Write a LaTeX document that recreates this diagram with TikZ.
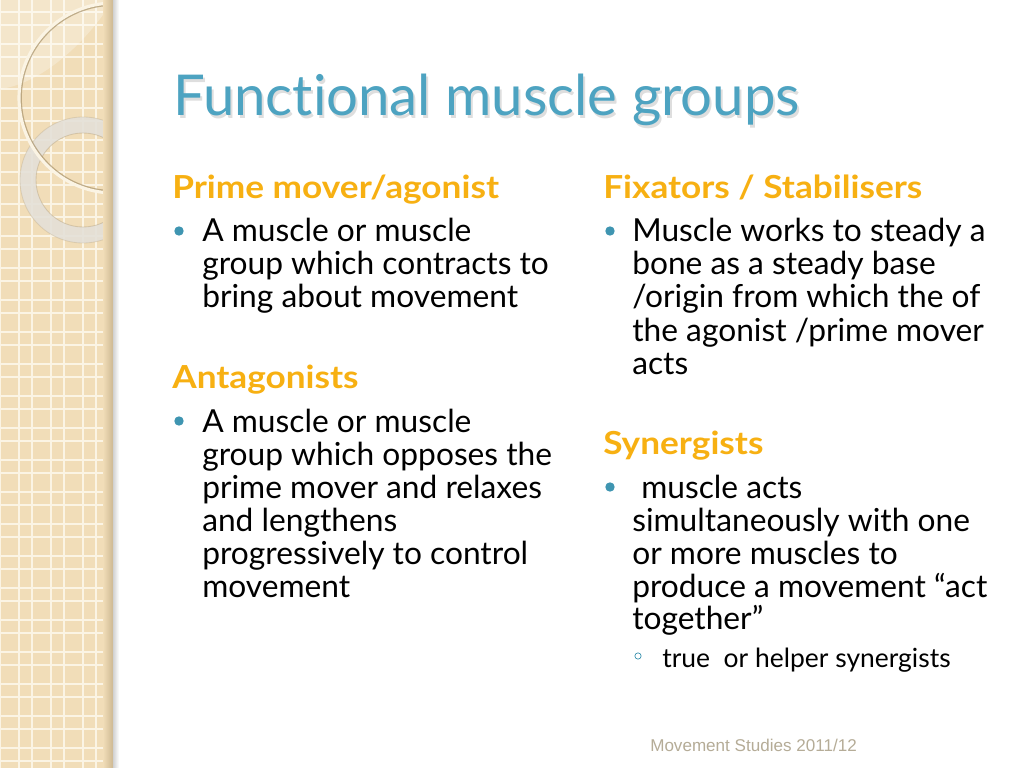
\documentclass[tikz,border=0pt]{standalone}
\usepackage{fontspec}
\usepackage{graphicx}
\setmainfont{Lato}[Ligatures=NoCommon]
\newfontfamily\footfont{Liberation Sans}
\definecolor{titlecol}{HTML}{4DA3C1}
\definecolor{headcol}{HTML}{F7B012}
\definecolor{bulletcol}{HTML}{3F95B1}
\definecolor{footcol}{HTML}{B5AC97}
\definecolor{stripcol}{HTML}{F1DDB8}
\definecolor{stripdark}{HTML}{CDB892}
\definecolor{gridcol}{HTML}{FBF4E4}
\definecolor{ringcol}{HTML}{E4E0D8}
\definecolor{circedge}{HTML}{A8926A}
\newcommand{\hstretch}[1]{\scalebox{1.11}[1]{#1}}
\tikzset{
  titletext/.style={anchor=base west, inner sep=0, font={\fontsize{39.6}{48}\selectfont}},
  headtext/.style={anchor=base west, inner sep=0, text=headcol, font={\fontsize{22.3}{26}\selectfont\bfseries}},
  bodytext/.style={anchor=base west, inner sep=0, text=black, font={\fontsize{22.3}{26}\selectfont}},
  subtext/.style={anchor=base west, inner sep=0, text=black, font={\fontsize{18.6}{22}\selectfont}},
  bulletdot/.style={circle, fill=bulletcol, draw=none, inner sep=0, minimum size=6.6pt},
  subbullet/.style={circle, draw=bulletcol, line width=0.5pt, fill=none, inner sep=0, minimum size=4.4pt},
  foottext/.style={anchor=base west, inner sep=0, text=footcol, font={\footfont\fontsize{12}{14}\selectfont}}
}
\begin{document}
\begin{tikzpicture}[x=0.703125pt, y=-0.703125pt]
\useasboundingbox (0,0) rectangle (1024,768);
\fill[white] (0,0) rectangle (1024,768);
% ---- left decorative strip ----
\fill[stripcol] (0,0) rectangle (113,768);
\foreach \gx in {0,19,32,51,64,83,96} {
  \draw[gridcol, line width=1.4pt] (\gx,0) -- (\gx,768);
}
\foreach \k in {0,...,24} {
  \pgfmathsetmacro{\ya}{12+32*\k}
  \pgfmathsetmacro{\yb}{25+32*\k}
  \draw[gridcol, line width=1.4pt] (0,\ya) -- (113,\ya);
  \draw[gridcol, line width=1.4pt] (0,\yb) -- (113,\yb);
}
\begin{scope}
  \clip (0,0) rectangle (113,768);
  % light highlight at the top
  \fill[white, opacity=0.28] (0,0) -- (0,89) .. controls (40,84) and (85,45) .. (113,0) -- cycle;
  % translucent ring
  \fill[ringcol, opacity=0.88, even odd rule] (83,180) circle[radius=63] (83,180) circle[radius=47];
  \draw[circedge, opacity=0.35, line width=0.6pt] (83,180) circle[radius=47];
  \draw[circedge, opacity=0.25, line width=0.6pt] (83,180) circle[radius=63];
  % large embossed circle
  \draw[circedge, opacity=0.7, line width=1.2pt] (114,98) circle[radius=93];
  \draw[gridcol, line width=2.2pt] (114,98) circle[radius=95];
\end{scope}
\shade[left color=stripcol, right color=stripdark] (103,0) rectangle (113,768);
\shade[left color=black!18, right color=white] (113,0) rectangle (119,768);
% ---- title ----
\node[titletext, text=black, opacity=0.13] (titleshadow) at (175,119) {Functional muscle groups};
\node[titletext, text=titlecol] (title) at (173,116) {Functional muscle groups};
% ---- left column ----
\node[headtext] (h1) at (172,199) {\hstretch{Prime mover/agonist}};
\node[bulletdot] (b1) at (179,231) {};
\node[bodytext] (l1a) at (202,242) {A muscle or muscle};
\node[bodytext] (l1b) at (202,275) {group which contracts to};
\node[bodytext] (l1c) at (202,308) {bring about movement};
\node[headtext] (h2) at (172,388) {\hstretch{Antagonists}};
\node[bulletdot] (b2) at (179,421) {};
\node[bodytext] (l2a) at (202,432) {A muscle or muscle};
\node[bodytext] (l2b) at (202,465) {group which opposes the};
\node[bodytext] (l2c) at (202,498) {prime mover and relaxes};
\node[bodytext] (l2d) at (202,531) {and lengthens};
\node[bodytext] (l2e) at (202,564) {progressively to control};
\node[bodytext] (l2f) at (202,597) {movement};
% ---- right column ----
\node[headtext] (h3) at (603,199) {\hstretch{Fixators / Stabilisers}};
\node[bulletdot] (b3) at (610,231) {};
\node[bodytext] (r1a) at (632,242) {Muscle works to steady a};
\node[bodytext] (r1b) at (632,275) {bone as a steady base};
\node[bodytext] (r1c) at (632,308) {/origin from which the of};
\node[bodytext] (r1d) at (632,341) {the agonist /prime mover};
\node[bodytext] (r1e) at (632,374) {acts};
\node[headtext] (h4) at (603,454) {\hstretch{Synergists}};
\node[bulletdot] (b4) at (610,487) {};
\node[bodytext] (r2a) at (641,498) {muscle acts};
\node[bodytext] (r2b) at (632,531) {simultaneously with one};
\node[bodytext] (r2c) at (632,564) {or more muscles to};
\node[bodytext] (r2d) at (632,597) {produce a movement “act};
\node[bodytext] (r2e) at (632,629) {together”};
\node[subbullet] (sb) at (638,656) {};
\node[subtext] (r3a) at (662,667) {true\ \ or helper synergists};
% ---- footer ----
\node[foottext] (foot) at (650,751) {Movement Studies 2011/12};
\end{tikzpicture}
\end{document}
